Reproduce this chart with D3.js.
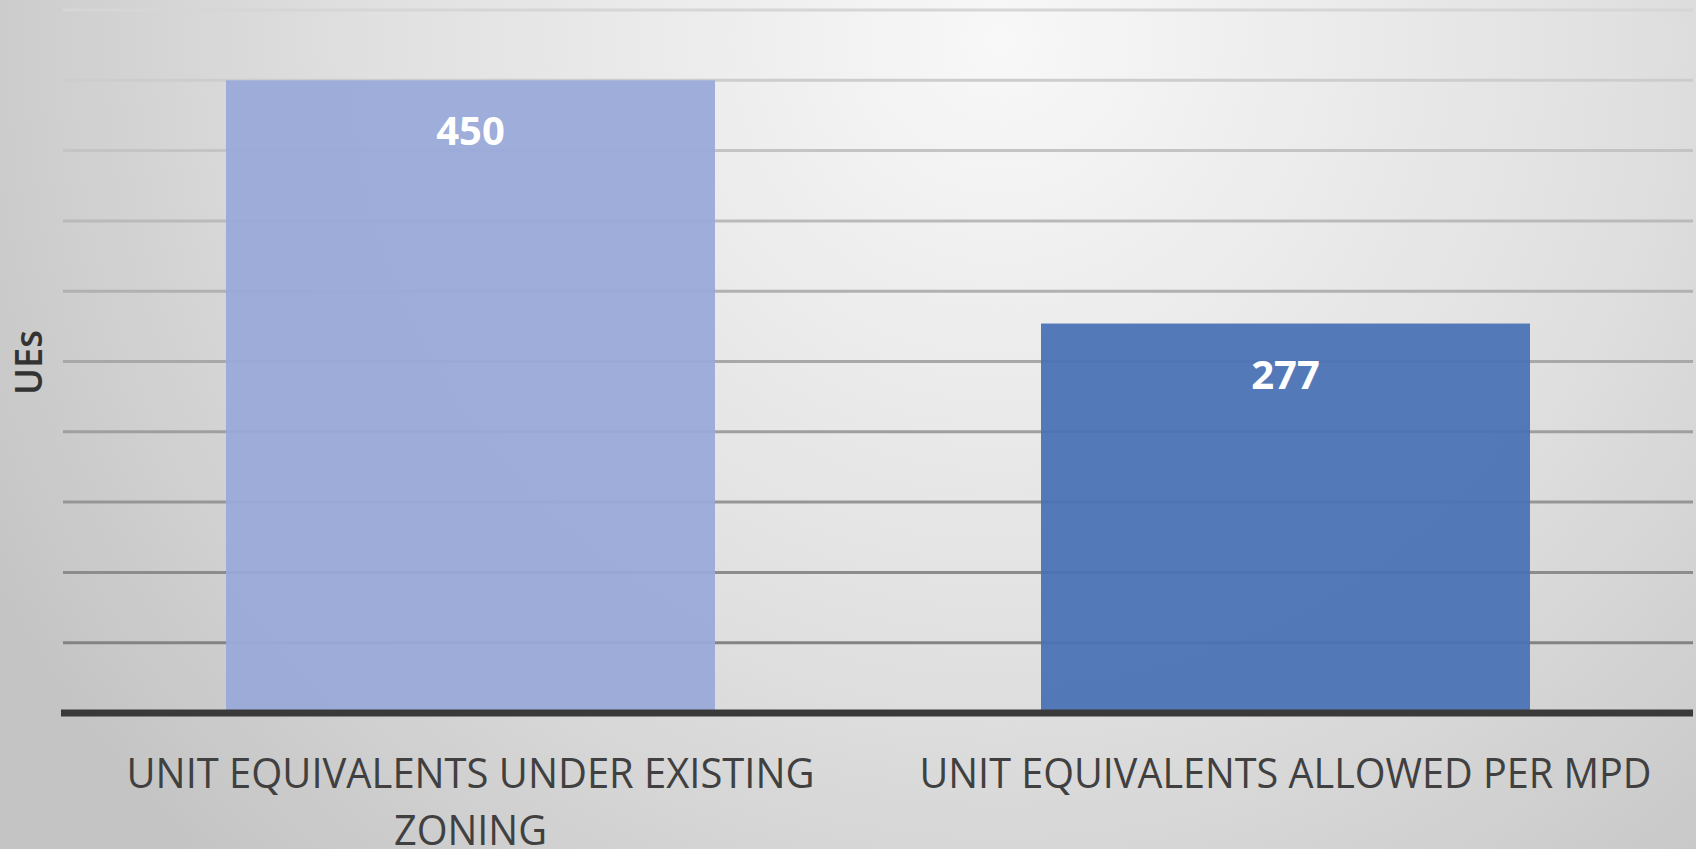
<!DOCTYPE html>
<html>
<head>
<meta charset="utf-8">
<script src="https://cdn.jsdelivr.net/npm/d3@7"></script>
<style>
  html, body { margin: 0; padding: 0; overflow: hidden; }
</style>
</head>
<body>
<div id="chart"></div>
<script>
// chart data
var categories = ["existing", "mpd"];
var labelLines = [["UNIT EQUIVALENTS UNDER EXISTING", "ZONING"], ["UNIT EQUIVALENTS ALLOWED PER MPD"]];
var labelWidths = [[688, 153], [732]];   // measured widths of each label line
var values = [450, 277];
var barColors = ["#99a9d8", "#4a72b5"];
var yMax = 500;
var yTickStep = 50;
var yTitle = "UEs";

var width = 1696;
var height = 849;
var margin = {top: 10, right: 3, bottom: 136, left: 63};

var svg = d3.select("#chart").append("svg")
    .attr("width", width)
    .attr("height", height);

// background: light in the upper middle, darker towards the edges
var defs = svg.append("defs");
var bg = defs.append("radialGradient")
    .attr("id", "bg")
    .attr("gradientUnits", "userSpaceOnUse")
    .attr("cx", 1000).attr("cy", 40).attr("r", 1150);
bg.append("stop").attr("offset", "0%").attr("stop-color", "#f8f8f8");
bg.append("stop").attr("offset", "55%").attr("stop-color", "#e0e0e0");
bg.append("stop").attr("offset", "100%").attr("stop-color", "#c4c4c4");

svg.append("rect")
    .attr("width", width)
    .attr("height", height)
    .attr("fill", "url(#bg)");

var x = d3.scaleBand()
    .domain(categories)
    .range([margin.left, width - margin.right])
    .paddingInner(0.4)
    .paddingOuter(0.2);

var y = d3.scaleLinear()
    .domain([0, yMax])
    .range([height - margin.bottom, margin.top]);

// gridlines get darker lower down
var gridColor = d3.scaleLinear()
    .domain([margin.top, height - margin.bottom])
    .range(["#d6d6d6", "#7a7a7a"]);

var ticks = d3.range(yTickStep, yMax + 1, yTickStep);

svg.append("g")
    .selectAll("line")
    .data(ticks)
    .enter()
    .append("line")
    .attr("x1", margin.left)
    .attr("x2", width - margin.right)
    .attr("y1", function(d) { return y(d); })
    .attr("y2", function(d) { return y(d); })
    .attr("stroke", function(d) { return gridColor(y(d)); })
    .attr("stroke-width", 3);

// bars, a little see-through so the gridlines show faintly
svg.append("g")
    .selectAll("rect")
    .data(values)
    .enter()
    .append("rect")
    .attr("x", function(d, i) { return x(categories[i]); })
    .attr("y", function(d) { return y(d); })
    .attr("width", x.bandwidth())
    .attr("height", function(d) { return y(0) - y(d); })
    .attr("fill", function(d, i) { return barColors[i]; })
    .attr("fill-opacity", 0.94);

// value labels inside the bars
svg.append("g")
    .selectAll("text")
    .data(values)
    .enter()
    .append("text")
    .attr("x", function(d, i) { return x(categories[i]) + x.bandwidth() / 2; })
    .attr("y", function(d) { return y(d) + 65; })
    .attr("text-anchor", "middle")
    .attr("font-family", "'Open Sans', sans-serif")
    .attr("font-weight", "bold")
    .attr("font-size", 40)
    .attr("fill", "#ffffff")
    .text(function(d) { return d; });

// x axis baseline
svg.append("line")
    .attr("x1", margin.left - 2)
    .attr("x2", width - margin.right)
    .attr("y1", y(0))
    .attr("y2", y(0))
    .attr("stroke", "#3a3a3a")
    .attr("stroke-width", 7);

// category labels, wrapped onto lines
var catLabels = svg.append("g")
    .selectAll("text")
    .data(categories)
    .enter()
    .append("text")
    .attr("text-anchor", "middle")
    .attr("font-family", "'Open Sans', sans-serif")
    .attr("font-size", 42)
    .attr("fill", "#404040");

catLabels.each(function(c, i) {
  var t = d3.select(this);
  labelLines[i].forEach(function(line, j) {
    t.append("tspan")
      .attr("x", x(c) + x.bandwidth() / 2)
      .attr("y", y(0) + 75 + j * 57)
      .attr("textLength", labelWidths[i][j])
      .attr("lengthAdjust", "spacingAndGlyphs")
      .text(line);
  });
});

// y axis title
svg.append("text")
    .attr("transform", "translate(42," + (y(yMax / 2) + 1) + ") rotate(-90)")
    .attr("text-anchor", "middle")
    .attr("font-family", "'Open Sans', sans-serif")
    .attr("font-weight", 600)
    .attr("font-size", 37)
    .attr("textLength", 65)
    .attr("lengthAdjust", "spacingAndGlyphs")
    .attr("fill", "#333333")
    .text(yTitle);
</script>
</body>
</html>
